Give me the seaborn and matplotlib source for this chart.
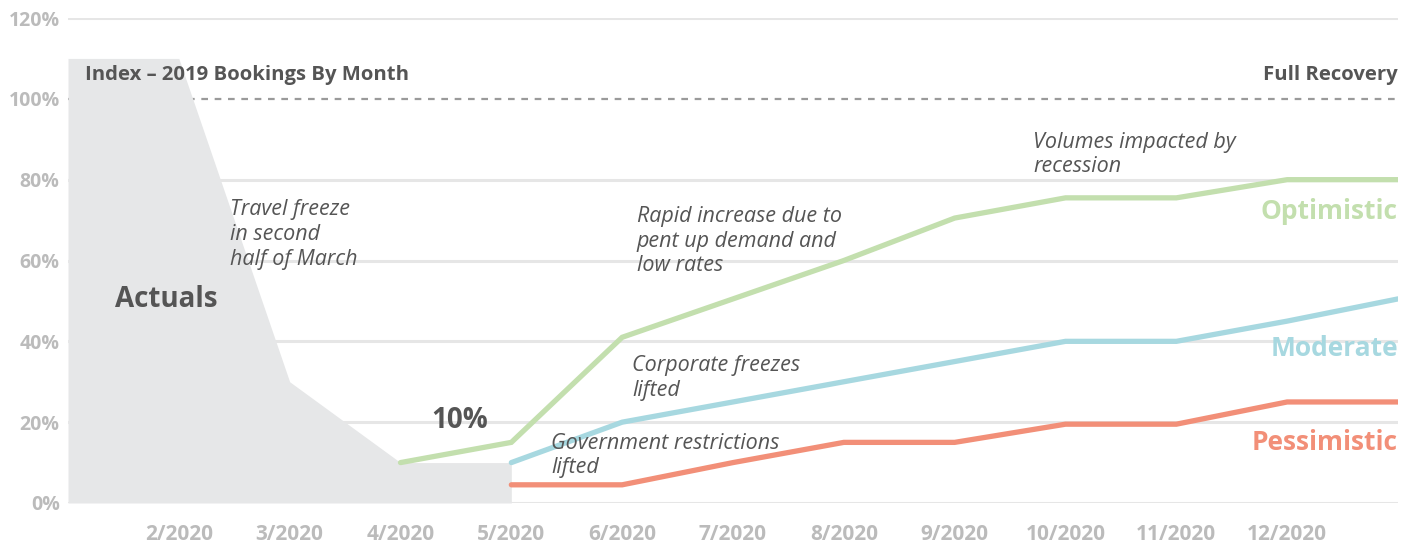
import numpy as np
import pandas as pd
import matplotlib
matplotlib.use("Agg")
import matplotlib.pyplot as plt
import seaborn as sns

# ---- data ----
month_pos = [1, 2, 3, 4, 5, 6, 7, 8, 9, 10, 11, 12, 13]
tick_labels = ["2/2020", "3/2020", "4/2020", "5/2020", "6/2020", "7/2020",
               "8/2020", "9/2020", "10/2020", "11/2020", "12/2020"]
tick_pos = [2, 3, 4, 5, 6, 7, 8, 9, 10, 11, 12]
actual_pos = [1, 2, 3, 4, 5]
actual_vals = [110, 110, 30, 10, 10]
optimistic = [np.nan, np.nan, np.nan, 10, 15, 41, 50.5, 60, 70.5, 75.5, 75.5, 80, 80]
moderate = [np.nan, np.nan, np.nan, np.nan, 10, 20, 25, 30, 35, 40, 40, 45, 50.5]
pessimistic = [np.nan, np.nan, np.nan, np.nan, 4.5, 4.5, 10, 15, 15, 19.5, 19.5, 25, 25]
y_ticks = [0, 20, 40, 60, 80, 100, 120]

GREEN = "#c3dfae"
BLUE = "#a7d8e0"
RED = "#f28f78"
AREA = "#e6e7e8"
DARK = "#555555"
TICK = "#bbbbbb"

sns.set_theme(style="white")
plt.rcParams["font.family"] = ["Open Sans", "DejaVu Sans"]

fig = plt.figure(figsize=(14.11, 5.44), dpi=100)
ax = fig.add_axes([68 / 1411, 41 / 544, (1398 - 68) / 1411, (526 - 41) / 544])

ax.set_xlim(1, 13)
ax.set_ylim(0, 120)

for yv in y_ticks:
    if yv == 100:
        continue
    ax.axhline(yv, color="#e6e6e6", lw=2.2, zorder=0)
ax.axhline(100, color="#9a9a9a", lw=1.6, ls=(0, (3, 3)), zorder=1)

ax.fill_between(actual_pos, actual_vals, 0, color=AREA, lw=0, zorder=1)

df = pd.DataFrame({"month": month_pos, "Optimistic": optimistic,
                   "Moderate": moderate, "Pessimistic": pessimistic})
for col, c in [("Optimistic", GREEN), ("Moderate", BLUE), ("Pessimistic", RED)]:
    sub = df.dropna(subset=[col])
    sns.lineplot(data=sub, x="month", y=col, ax=ax, color=c, lw=3.8,
                 zorder=3, solid_joinstyle="miter")

for s in ax.spines.values():
    s.set_visible(False)
ax.set_xlabel("")
ax.set_ylabel("")
ax.set_xticks(tick_pos)
ax.set_xticklabels(tick_labels)
ax.set_yticks(y_ticks)
ax.set_yticklabels([f"{v}%" for v in y_ticks])
ax.tick_params(axis="x", length=0, pad=15, labelsize=15, labelcolor=TICK)
ax.tick_params(axis="y", length=0, pad=6, labelsize=14, labelcolor=TICK)
for lbl in ax.get_xticklabels() + ax.get_yticklabels():
    lbl.set_fontweight("bold")

# ---- annotations ----
ax.text(1.15, 106, "Index – 2019 Bookings By Month", fontsize=14.6,
        fontweight="bold", color=DARK, va="center", ha="left", zorder=5)
ax.text(13, 106, "Full Recovery", fontsize=14.6, fontweight="bold",
        color=DARK, va="center", ha="right", zorder=5)
ax.text(1.42, 50.3, "Actuals", fontsize=20, fontweight="bold", color=DARK,
        va="center", ha="left", zorder=5)
ax.text(4.28, 20.5, "10%", fontsize=20, fontweight="bold", color=DARK,
        va="center", ha="left", zorder=5)

ital = dict(fontsize=15.5, style="italic", color=DARK, va="top", ha="left",
            linespacing=1.22, zorder=5)
ax.text(2.46, 75.1, "Travel freeze\nin second\nhalf of March", **ital)
ax.text(6.13, 73.4, "Rapid increase due to\npent up demand and\nlow rates", **ital)
ax.text(9.71, 91.9, "Volumes impacted by\nrecession", **ital)
ax.text(6.09, 36.5, "Corporate freezes\nlifted", **ital)
ax.text(5.36, 17.4, "Government restrictions\nlifted", **ital)

ax.text(13, 72.1, "Optimistic", fontsize=19, fontweight="bold", color=GREEN,
        va="center", ha="right", zorder=5)
ax.text(13, 38.2, "Moderate", fontsize=19, fontweight="bold", color=BLUE,
        va="center", ha="right", zorder=5)
ax.text(13, 15, "Pessimistic", fontsize=19, fontweight="bold", color=RED,
        va="center", ha="right", zorder=5)

fig.savefig("out.png", dpi=100)
